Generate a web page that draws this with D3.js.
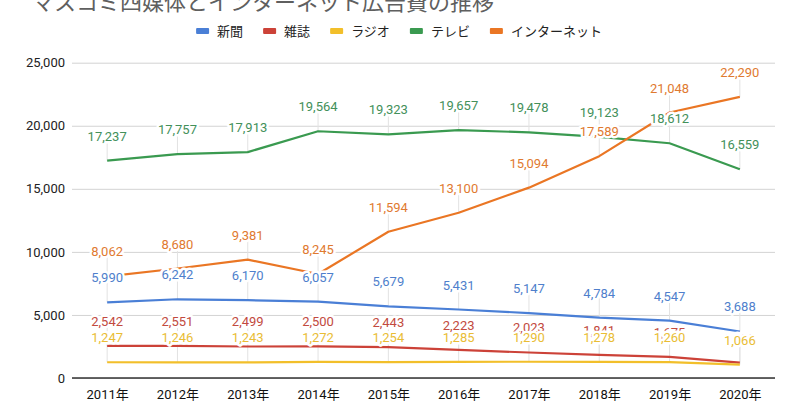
<!DOCTYPE html>
<html>
<head>
<meta charset="utf-8">
<script src="https://cdn.jsdelivr.net/npm/d3@7"></script>
<style>
  html, body { margin: 0; padding: 0; background: #fff; }
  svg { display: block; font-family: "Roboto", "Noto Sans CJK JP", sans-serif; }
</style>
</head>
<body>
<svg id="chart" width="800" height="418"></svg>
<script>
const titleText = "マスコミ四媒体とインターネット広告費の推移";
const years = ["2011年","2012年","2013年","2014年","2015年","2016年","2017年","2018年","2019年","2020年"];
const seriesNames = ["新聞","雑誌","ラジオ","テレビ","インターネット"];
const shinbun = [5990, 6242, 6170, 6057, 5679, 5431, 5147, 4784, 4547, 3688];
const zasshi  = [2542, 2551, 2499, 2500, 2443, 2223, 2023, 1841, 1675, 1223];
const radio   = [1247, 1246, 1243, 1272, 1254, 1285, 1290, 1278, 1260, 1066];
const tv      = [17237, 17757, 17913, 19564, 19323, 19657, 19478, 19123, 18612, 16559];
const internet= [8062, 8680, 9381, 8245, 11594, 13100, 15094, 17589, 21048, 22290];
const yTicks = [0, 5000, 10000, 15000, 20000, 25000];
const lineColors  = ["#4a7fd6", "#cc4238", "#f2bf2a", "#3a9a50", "#ea7624"];
const labelColors = ["#4f7fcc", "#c24a40", "#e9bd35", "#43905a", "#df7a30"];

const seriesValues = [shinbun, zasshi, radio, tv, internet];
const series = seriesNames.map((n, i) => ({ name: n, values: seriesValues[i], color: lineColors[i], lcolor: labelColors[i] }));

const svg = d3.select("#chart");
const m = { left: 72, right: 775, top: 62.7, bottom: 378 };

const x = d3.scalePoint().domain(years).range([m.left, m.right]).padding(0.5);
const y = d3.scaleLinear().domain([0, 25000]).range([m.bottom, m.top]);

// title (partly cut off at top)
svg.append("text")
  .attr("x", 32).attr("y", 10)
  .attr("font-size", 22)
  .attr("fill", "#5f5f5f")
  .text(titleText);

// legend
const legend = svg.append("g").attr("font-size", 13).attr("fill", "#222");
const items = legend.selectAll("g").data(series).enter().append("g");
items.append("rect").attr("width", 13).attr("height", 6).attr("rx", 1).attr("y", -3)
  .attr("fill", d => d.color);
items.append("text").attr("x", 21).attr("dy", "0.35em").text(d => d.name);
let widths = [];
items.each(function() { widths.push(this.getBBox().width); });
const gap = 20;
const total = d3.sum(widths) + gap * (widths.length - 1);
let cx = 399 - total / 2;
items.attr("transform", (d, i) => { const t = `translate(${cx},31)`; cx += widths[i] + gap; return t; });

// gridlines
const yAxis = d3.axisLeft(y).tickValues(yTicks).tickFormat(d3.format(",")).tickSize(-(m.right - m.left)).tickPadding(7);
const gy = svg.append("g").attr("transform", `translate(${m.left},0)`).call(yAxis);
gy.select(".domain").remove();
gy.selectAll(".tick line").attr("stroke", "#d3d3d3").attr("stroke-width", 1);
gy.selectAll(".tick text").attr("font-size", 13).attr("fill", "#222").attr("font-family", "Roboto, sans-serif");

// x axis
const xAxis = d3.axisBottom(x).tickSize(0).tickPadding(12);
const gx = svg.append("g").attr("transform", `translate(0,${m.bottom})`).call(xAxis);
gx.select(".domain").remove();
gx.selectAll(".tick text").attr("font-size", 13).attr("fill", "#111").attr("font-family", "Roboto, 'Noto Sans CJK JP', sans-serif");
svg.append("line").attr("x1", m.left).attr("x2", m.right).attr("y1", y(0)).attr("y2", y(0))
  .attr("stroke", "#333").attr("stroke-width", 1.3);

// leader lines
const leaders = svg.append("g").attr("stroke", "#e2e2e2").attr("stroke-width", 1);
series.forEach(s => {
  s.values.forEach((v, i) => {
    leaders.append("line")
      .attr("x1", x(years[i])).attr("x2", x(years[i]))
      .attr("y1", y(v) - 20).attr("y2", y(v));
  });
});

// lines
const lineGen = d3.line().x((d, i) => x(years[i])).y(d => y(d));
series.forEach(s => {
  svg.append("path").datum(s.values)
    .attr("fill", "none").attr("stroke", s.color).attr("stroke-width", 2.2)
    .attr("stroke-linejoin", "round")
    .attr("d", lineGen);
});

// data labels
const fmt = d3.format(",");
series.forEach(s => {
  const g = svg.append("g").attr("font-size", 13).attr("text-anchor", "middle");
  s.values.forEach((v, i) => {
    g.append("text")
      .attr("x", x(years[i])).attr("y", y(v) - 20)
      .attr("fill", s.lcolor)
      .attr("stroke", "#fff").attr("stroke-width", 5).attr("stroke-linejoin", "round")
      .attr("paint-order", "stroke")
      .text(fmt(v));
  });
});
</script>
</body>
</html>
